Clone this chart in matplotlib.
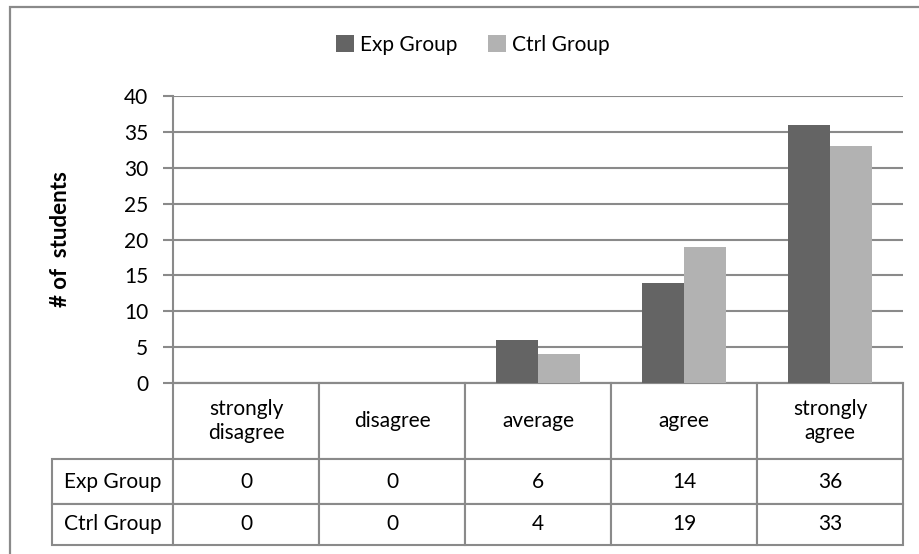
import numpy as np
import matplotlib.pyplot as plt
from matplotlib.patches import Rectangle

categories = ["strongly\ndisagree", "disagree", "average", "agree", "strongly\nagree"]
series = ["Exp Group", "Ctrl Group"]
exp_group = [0, 0, 6, 14, 36]
ctrl_group = [0, 0, 4, 19, 33]
y_ticks = [0, 5, 10, 15, 20, 25, 30, 35, 40]

plt.rcParams["font.family"] = ["Lato", "DejaVu Sans"]
grey = "#8a8a8a"
colors = ["#646464", "#b2b2b2"]
fs = 15

fig = plt.figure(figsize=(9.2, 5.54), dpi=100)
W, H = 920, 554
ax = fig.add_axes([173 / W, 1 - 383 / H, (903 - 173) / W, (383 - 96) / H])

# outer chart frame (cut off at right and bottom)
fig.add_artist(Rectangle((10 / W, -0.2), 1.2, 1.2 - 7 / H, transform=fig.transFigure,
                         fill=False, edgecolor=grey, linewidth=1.6))

x = np.arange(len(categories))
w = 0.288
for i, (vals, c) in enumerate(zip([exp_group, ctrl_group], colors)):
    ax.bar(x + (i - 0.5) * w, vals, w, color=c, label=series[i], zorder=3)

ax.set_xlim(-0.5, len(categories) - 0.5)
ax.set_ylim(0, 40)
ax.set_yticks(y_ticks)
ax.set_xticks([])
ax.grid(axis="y", color=grey, linewidth=1.5, zorder=0)
for s in ["top", "right"]:
    ax.spines[s].set_visible(False)
for s in ["left", "bottom"]:
    ax.spines[s].set_color(grey)
    ax.spines[s].set_linewidth(1.5)
ax.tick_params(axis="y", direction="out", length=7.2, width=1.5, color=grey,
               labelsize=fs, pad=10.5)

ax.set_ylabel("# of  students", fontsize=16, fontweight="bold")
ax.yaxis.set_label_coords((71 - 173) / 730, 0.5)

# data table under the plot
cell_text = [[str(v) for v in exp_group], [str(v) for v in ctrl_group]]
tab = ax.table(cellText=cell_text, rowLabels=series, colLabels=categories,
               colWidths=[1 / len(categories)] * len(categories),
               cellLoc="center", rowLoc="center",
               bbox=[0, (383 - 545) / 287, 1, (545 - 383) / 287])
tab.auto_set_font_size(False)
tab.set_fontsize(fs)
row_h = {0: 76, 1: 45, 2: 41}
for (r, c), cell in tab.get_celld().items():
    cell.set_height(row_h[r] / 287)
    if c == -1:
        cell.set_width(121 / 730)
    cell.set_edgecolor(grey)
    cell.set_linewidth(1.5)
tab._autoColumns = []

fig.legend(loc="center", bbox_to_anchor=(473 / W, 1 - 45 / H), ncol=2, frameon=False,
           fontsize=fs, handlelength=0.85, handleheight=0.85, handletextpad=0.3,
           columnspacing=1.5)

fig.savefig("out.png", dpi=100)
